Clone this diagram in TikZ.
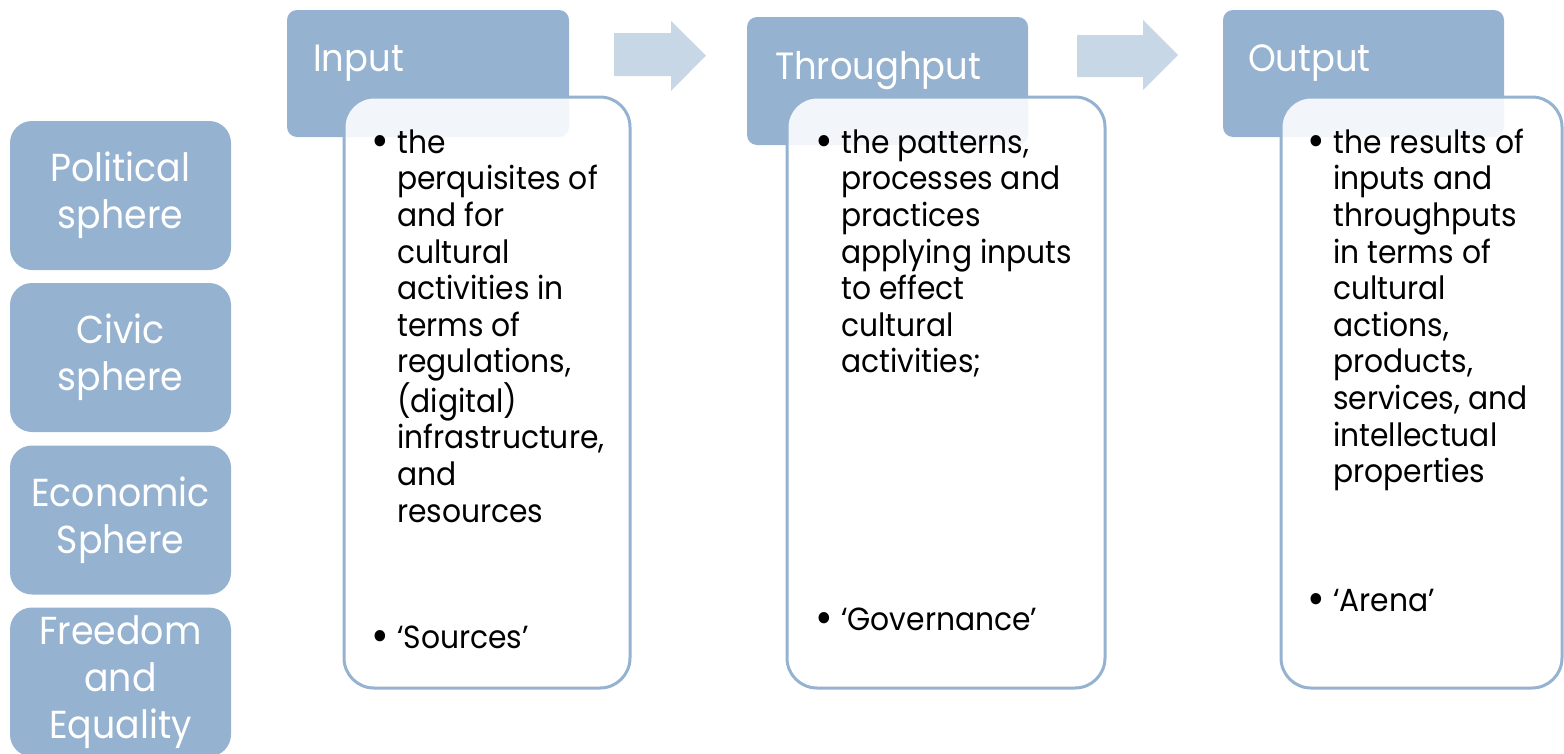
\documentclass[tikz,border=0pt]{standalone}
\usepackage{fontspec}
\setmainfont{Poppins}[FakeStretch=0.93]

\definecolor{headblue}{HTML}{95B3D0}
\definecolor{arrowblue}{HTML}{C7D7E6}

\tikzset{sphere box/.style={
    	fill=headblue, rounded corners=22pt, inner sep=0pt,
    	minimum width=221pt, minimum height=149pt,
    	text=white, align=center, font=\fontsize{39}{47}\selectfont
  	},
  	head box/.style={fill=headblue, rounded corners=10pt, inner sep=0pt},
  	head title/.style={text=white, anchor=base west, inner sep=0pt, font=\fontsize{38}{44}\selectfont},
  	body box/.style={draw=headblue, line width=3pt, fill=white, fill opacity=0.88, rounded corners=30pt, inner sep=0pt},
  	body text/.style={anchor=north west, inner sep=0pt, align=left, font=\fontsize{32}{36.6}\selectfont},
  	flow arrow/.style={fill=arrowblue}
}
\newcommand{\bul}{\llap{\raisebox{-3pt}{\fontsize{46}{46}\selectfont\textbullet}\hspace{8pt}}\strut}

\begin{document}
\begin{tikzpicture}[x=1pt, y=-1pt]
		\useasboundingbox (0,0) rectangle (1564,753);
		% spheres on the left
		\foreach \name/\yc/\txt in {political/195.5/Political\\sphere, civic/357.5/Civic\\sphere,
				economic/520/Economic\\Sphere, freedom/682/Freedom\\and\\Equality}
			\node [sphere box] (\name) at (120.5,\yc) {\txt};
		% headers
		\node [head box, minimum width=282pt, minimum height=127pt] (inhead) at (428,73.5) {};
		\node [head box, minimum width=281pt, minimum height=128pt] (thhead) at (887.5,81) {};
		\node [head box, minimum width=281pt, minimum height=127pt] (outhead) at (1363.5,73.5) {};
		% bodies
		\node [body box, minimum width=286pt, minimum height=591pt] (inbody) at (487,392.5) {};
		\node [body box, minimum width=318pt, minimum height=591pt] (thbody) at (946,392.5) {};
		\node [body box, minimum width=281pt, minimum height=591pt] (outbody) at (1421.5,392.5) {};
		% arrows
		\fill [flow arrow] (614,33) -- (671,33) -- (671,21) -- (706,55.5) -- (671,91) -- (671,76) -- (614,76) -- cycle;
		\fill [flow arrow] (1077,35) -- (1143,35) -- (1143,20) -- (1178,55) -- (1143,90) -- (1143,77) -- (1077,77) -- cycle;
		% titles
		\node [head title] (intitle) at (313,71) {Input};
		\node [head title] (thtitle) at (775,79) {Throughput};
		\node [head title] (outtitle) at (1248,71) {Output};
		% texts
		\node [body text] (intext) at (397,127.4) {\bul the\\perquisites of\\and for\\cultural\\activities in\\terms of\\regulations,\\(digital)\\infrastructure,\\and\\resources};
		\node [body text] (insrc) at (397,622.4) {\bul ‘Sources’};
		\node [body text] (thtext) at (841,127.4) {\bul the patterns,\\processes and\\practices\\applying inputs\\to effect\\cultural\\activities;};
		\node [body text] (thgov) at (841,604.4) {\bul ‘Governance’};
		\node [body text] (outtext) at (1333,127.4) {\bul the results of\\inputs and\\throughputs\\in terms of\\cultural\\actions,\\products,\\services, and\\intellectual\\properties};
		\node [body text] (outarena) at (1333,585.4) {\bul ‘Arena’};
	\end{tikzpicture}
\end{document}
